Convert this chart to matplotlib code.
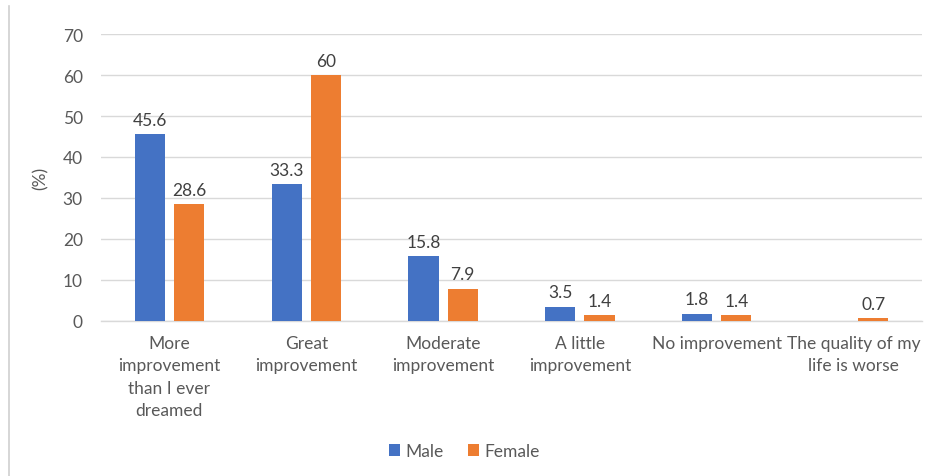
import numpy as np
import matplotlib.pyplot as plt
from matplotlib.lines import Line2D

categories = ["More\nimprovement\nthan I ever\ndreamed", "Great\nimprovement",
              "Moderate\nimprovement", "A little\nimprovement",
              "No improvement", "The quality of my\nlife is worse"]
male = [45.6, 33.3, 15.8, 3.5, 1.8, 0]
female = [28.6, 60, 7.9, 1.4, 1.4, 0.7]
male_labels = ["45.6", "33.3", "15.8", "3.5", "1.8", ""]
female_labels = ["28.6", "60", "7.9", "1.4", "1.4", "0.7"]

plt.rcParams['font.family'] = ['Lato', 'DejaVu Sans']
txt = "#595959"
fs = 12.5

fig = plt.figure(figsize=(9.29, 4.77), dpi=100)
ax = fig.add_axes([0.1087, 0.325, 0.9925 - 0.1087, 0.9266 - 0.325])

x = np.arange(len(categories))
w = 0.22
off = 0.143
b1 = ax.bar(x - off, male, w, color="#4472C4", label="Male", zorder=3)
b2 = ax.bar(x + off, female, w, color="#ED7D31", label="Female", zorder=3)

for bars, labs in ((b1, male_labels), (b2, female_labels)):
    for b, lab in zip(bars, labs):
        if lab:
            ax.text(b.get_x() + b.get_width() / 2, b.get_height() + 1.5, lab,
                    ha="center", va="bottom", fontsize=fs, color="#404040")

ax.set_xlim(-0.5, len(categories) - 0.5)
ax.set_ylim(0, 70)
ax.set_yticks(range(0, 71, 10))
ax.yaxis.grid(True, color="#d9d9d9", linewidth=1, zorder=0)
ax.set_axisbelow(True)
for s in ("top", "right", "left"):
    ax.spines[s].set_visible(False)
ax.spines["bottom"].set_color("#d9d9d9")
ax.spines["bottom"].set_linewidth(1)
ax.tick_params(axis="both", length=0, labelsize=fs, colors=txt)
ax.tick_params(axis="y", pad=13)
ax.tick_params(axis="x", pad=10)
ax.set_xticks(x)
ax.set_xticklabels(categories, linespacing=1.5)
ax.set_ylabel("(%)", fontsize=fs, color=txt, labelpad=10)

ax.legend(loc="center", bbox_to_anchor=(0.5, 0.052), bbox_transform=fig.transFigure,
          ncol=2, frameon=False, fontsize=fs, labelcolor=txt,
          handlelength=0.65, handleheight=0.65, handletextpad=0.3, columnspacing=1.4)

fig.add_artist(Line2D([9 / 929, 9 / 929], [0, 1 - 7 / 477], color="#d0d0d0",
                      linewidth=1.2, transform=fig.transFigure))

fig.savefig("out.png", dpi=100)
